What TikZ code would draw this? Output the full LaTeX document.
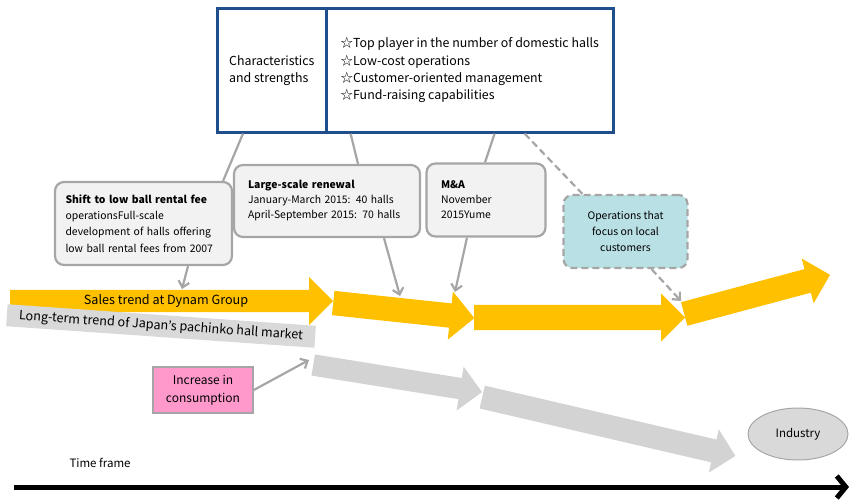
\documentclass[tikz,border=0pt]{standalone}
\usepackage{fontspec}
\setmainfont{Noto Sans CJK JP}
\usepackage{tikz}
\usetikzlibrary{arrows.meta,shapes.arrows,shapes.geometric}
\definecolor{navyCol}{HTML}{1F4E8C}
\definecolor{goldCol}{HTML}{FFC000}
\definecolor{trendCol}{HTML}{D3D3D3}
\definecolor{labelCol}{HTML}{D9D9D9}
\definecolor{lineCol}{HTML}{A6A6A6}
\definecolor{noteCol}{HTML}{F2F2F2}
\definecolor{localCol}{HTML}{B9E0E4}
\definecolor{pinkCol}{HTML}{FF99CC}

\begin{document}
\begin{tikzpicture}[x=1pt,y=-1pt,
  info/.style={draw=navyCol,line width=2.6pt,minimum height=124pt,anchor=north west,
    align=left,inner sep=0pt,font=\fontsize{12.4}{17.3}\selectfont},
  note/.style={draw=lineCol,fill=noteCol,line width=2.2pt,rounded corners=9pt,
    align=left,inner sep=0pt,font=\fontsize{10.4}{16.3}\selectfont},
  fat/.style={single arrow,fill=#1,draw=none,inner xsep=0pt,minimum width=1pt,
    single arrow head indent=0pt,anchor=tail},
  link/.style={draw=lineCol,line width=2.2pt},
  hint/.style={link,-{Straight Barb[length=6pt,width=11pt]}},
  dashy/.style={dash pattern=on 7pt off 4pt},
]
\useasboundingbox (0,0) rectangle (850,499);

% top box
\node[info,minimum width=109pt] (chars) at (216,7) {Characteristics\\and strengths};
\node[info,minimum width=287pt] (points) at (325,7) {☆Top player in the number of domestic halls\\☆Low-cost operations\\☆Customer-oriented management\\☆Fund-raising capabilities};

% callouts
\node[note,minimum width=177pt,minimum height=83pt,text width=156pt] (shift) at (143.5,223.5)
  {\textbf{Shift to low ball rental fee}\\operationsFull-scale\\development of halls offering\\low ball rental fees from 2007};
\node[note,minimum width=186pt,minimum height=72pt,text width=158pt,font=\fontsize{10.4}{15}\selectfont] (renew) at (327,201)
  {\textbf{Large-scale renewal}\\January-March 2015: 40 halls\\April-September 2015: 70 halls};
\node[note,minimum width=119pt,minimum height=73pt,text width=90pt,font=\fontsize{10.4}{15}\selectfont] (ma) at (486,200)
  {\textbf{M\&A}\\November\\2015Yume};
\node[note,dashy,fill=localCol,align=center,minimum width=124pt,minimum height=73pt] (ops) at (625.5,231.5)
  {Operations that\\focus on local\\customers};

% trend arrows
\node[fat=trendCol,inner ysep=10.5pt,single arrow head extend=11.5pt,minimum height=171pt,rotate=-9.1] (mkt1) at (313,365) {};
\node[fat=trendCol,inner ysep=11.5pt,single arrow head extend=10.5pt,minimum height=260pt,rotate=-13.1] (mkt2) at (482,397) {};
\node[fat=goldCol,inner ysep=11pt,single arrow head extend=13pt,minimum height=323pt] (dyn1) at (10,301) {};
\node[fat=goldCol,inner ysep=12pt,single arrow head extend=12pt,minimum height=142pt,rotate=-6.1] (dyn2) at (333,303) {};
\node[fat=goldCol,inner ysep=12.5pt,single arrow head extend=11.5pt,minimum height=211pt] (dyn3) at (474,317.5) {};
\node[fat=goldCol,inner ysep=12pt,single arrow head extend=11pt,minimum height=151pt,rotate=15] (dyn4) at (684,314) {};

\node[font=\fontsize{12.6}{14}\selectfont] (dynText) at (166,301) {Sales trend at Dynam Group};
\node[fill=labelCol,rotate=-4,minimum width=309pt,minimum height=22pt,inner sep=0pt,
  font=\fontsize{12.6}{14}\selectfont] (mktText) at (161,326) {Long-term trend of Japan’s pachinko hall market};

\node[draw=lineCol,fill=pinkCol,line width=1.6pt,minimum width=100pt,minimum height=46pt,
  align=center,inner sep=0pt,font=\fontsize{12}{18}\selectfont] (boost) at (203,390) {Increase in\\consumption};
\node[ellipse,draw=lineCol,fill=labelCol,line width=1pt,minimum width=100pt,minimum height=52pt,
  font=\fontsize{11.5}{13}\selectfont] (industry) at (798,434) {Industry};

% links from the top box
\draw[link] ([xshift=27pt]chars.south west) -- ([xshift=-10pt]shift.north east);
\draw[link] ([xshift=23pt]chars.south east) -- ([xshift=31pt]renew.north);
\draw[link] ([xshift=-120pt]points.south east) -- ([xshift=-1pt]ma.north);
\draw[link,dashy] ([xshift=-90pt]points.south east) -- ([xshift=20pt]ops.north west);

% pointers to the trend
\coordinate (hit1) at (182,289);
\coordinate (hit2) at (400,296);
\coordinate (hit3) at (455,292);
\coordinate (hit4) at (681,301);
\coordinate (hit5) at (309,360);
\draw[hint] ([xshift=44.5pt]shift.south) -- (hit1);
\draw[hint] ([xshift=57pt]renew.south) -- (hit2);
\draw[hint] ([xshift=-19pt]ma.south) -- (hit3);
\draw[hint,dashy] ([xshift=26pt]ops.south) -- (hit4);
\draw[hint] (boost.east) -- (hit5);

% time axis
\node[anchor=west,font=\fontsize{11.5}{13}\selectfont] (timeText) at (66,463) {Time frame};
\coordinate (axisStart) at (14,487);
\coordinate (axisEnd) at (849,487);
\draw[line width=5pt,-{Straight Barb[length=9pt,width=22pt]}] (axisStart) -- (axisEnd);

\end{tikzpicture}
\end{document}
